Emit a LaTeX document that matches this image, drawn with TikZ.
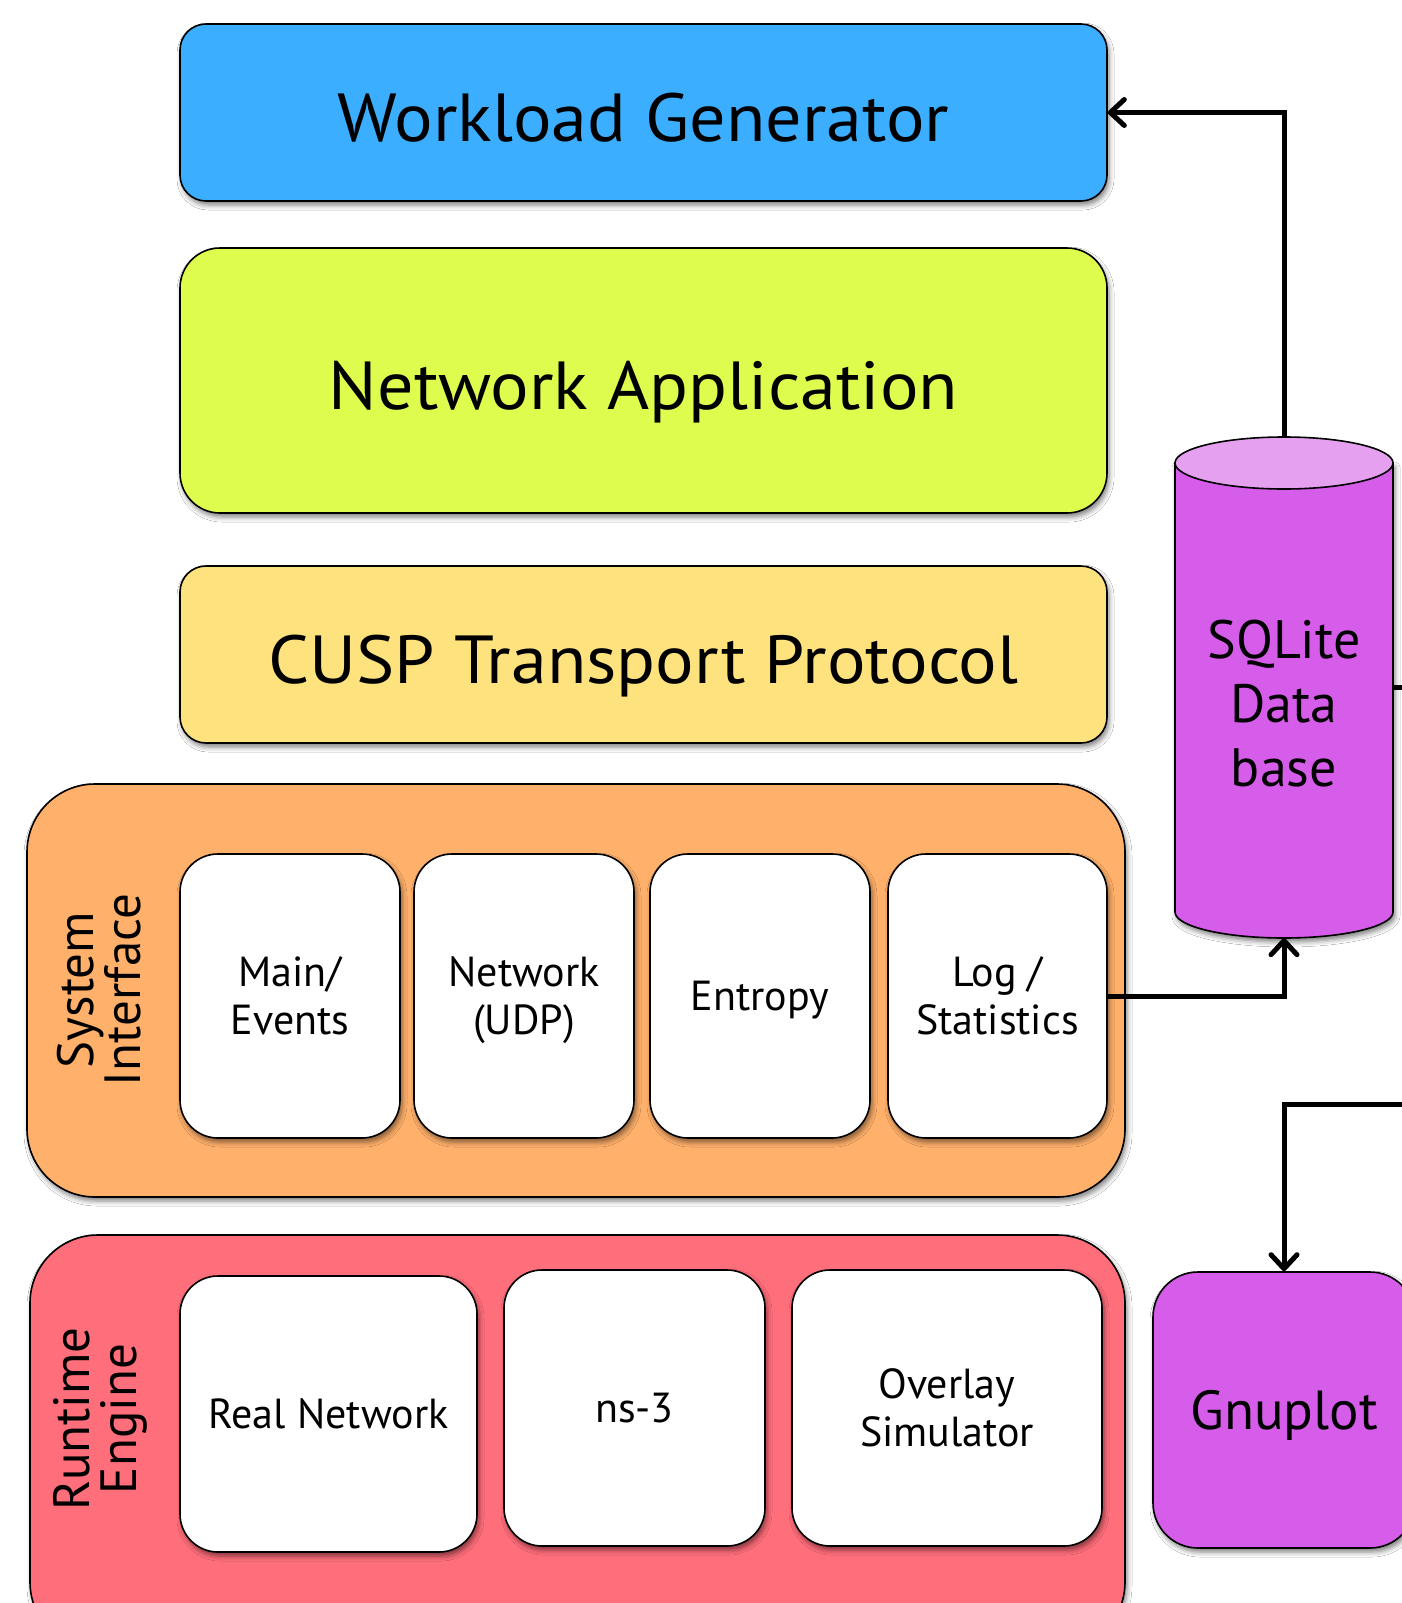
\documentclass[tikz,border=0pt]{standalone}
\usepackage{fontspec}
\setmainfont{PT Sans}
\newfontfamily\widesans{PT Sans}[FakeStretch=1.06]
\usetikzlibrary{arrows.meta,shadows.blur}

\definecolor{wgblue}{RGB}{59,174,255}
\definecolor{nalime}{RGB}{222,252,78}
\definecolor{cuspyellow}{RGB}{254,226,126}
\definecolor{siorange}{RGB}{255,176,107}
\definecolor{rered}{RGB}{255,110,123}
\definecolor{dbpurple}{RGB}{214,92,234}
\definecolor{dbcap}{RGB}{229,161,240}

\begin{document}
\begin{tikzpicture}[x=1pt,y=-1pt,
  softshadow/.style={blur shadow={shadow xshift=2pt,shadow yshift=-4pt,
      shadow blur radius=5pt,shadow opacity=50}},
  layerbox/.style={draw=black,line width=1.6pt,inner sep=0pt,
      align=center,softshadow},
  bigtext/.style={font=\widesans\fontsize{68}{76}\selectfont,
      text height=58pt,text depth=0pt},
  sidetext/.style={font=\fontsize{51}{47}\selectfont,align=center,
      rotate=90,inner sep=0pt},
  cell/.style={layerbox,fill=white,rounded corners=38pt,text depth=0pt,
      font=\fontsize{42}{48}\selectfont},
  conn/.style={line width=5pt,
      -{Straight Barb[length=14pt,width=26pt,round]}},
]
\useasboundingbox (0,0) rectangle (1402,1603);
\clip (0,0) rectangle (1402,1603);
\fill[white] (0,0) rectangle (1402,1603);

% upper layers
\node[layerbox,bigtext,fill=wgblue,rounded corners=26pt,
      minimum width=927pt,minimum height=177pt] (wg) at (643.5,112.5)
      {Workload Generator};
\node[layerbox,bigtext,fill=nalime,rounded corners=40pt,
      minimum width=927pt,minimum height=265pt] (na) at (643.5,380.5)
      {Network Application};
\node[layerbox,bigtext,fill=cuspyellow,rounded corners=26pt,
      minimum width=927pt,minimum height=177pt] (cusp) at (643.5,654.5)
      {CUSP Transport Protocol};

% system interface
\node[layerbox,fill=siorange,rounded corners=68pt,
      minimum width=1098pt,minimum height=413pt] (si) at (576,990.5) {};
\node[sidetext] (silabel) at (99,990) {System\\Interface};
\node[cell,minimum width=220pt,minimum height=284pt] (main) at (290,996)
      {Main/\\Events};
\node[cell,minimum width=220pt,minimum height=284pt] (udp) at (524,996)
      {Network\\(UDP)};
\node[cell,minimum width=220pt,minimum height=284pt] (ent) at (760,996)
      {Entropy};
\node[cell,minimum width=219pt,minimum height=284pt] (log) at (997.5,996)
      {Log /\\Statistics};

% runtime engine
\node[layerbox,fill=rered,rounded corners=68pt,
      minimum width=1095pt,minimum height=415pt] (re) at (577.5,1442.5) {};
\node[sidetext] (relabel) at (100,1419) {Runtime\\Engine};
\node[cell,minimum width=297pt,minimum height=276pt] (real) at (328.5,1414)
      {Real Network};
\node[cell,minimum width=261pt,minimum height=276pt] (ns3) at (634.5,1408)
      {ns-3};
\node[cell,minimum width=310pt,minimum height=276pt] (ovl) at (947,1408)
      {Overlay\\Simulator};

% database cylinder
\path[draw=black,line width=1.6pt,fill=dbpurple,softshadow]
  (1175,463) -- (1175,912)
  arc[start angle=180,end angle=360,x radius=109pt,y radius=26pt]
  -- (1393,463) -- cycle;
\filldraw[draw=black,line width=1.6pt,fill=dbcap]
  (1284,463) ellipse[x radius=109pt,y radius=26pt];
\node[inner sep=0pt,minimum width=218pt,minimum height=501pt] (db)
  at (1284,687.5) {};
\node[font=\fontsize{54}{64}\selectfont,align=center,inner sep=0pt]
  (dbtext) at (1284,704) {SQLite\\Data\\base};

% plotting tool
\node[layerbox,fill=dbpurple,rounded corners=45pt,text depth=0pt,
      font=\fontsize{55}{64}\selectfont,
      minimum width=262pt,minimum height=276pt] (gp) at (1284,1410)
      {Gnuplot};

% data flow
\coordinate (outside) at (1432,0);
\coordinate (gpfeed) at (1284,1104);
\draw[conn] (db.north) |- (wg.east);
\draw[conn] (log.east) -| (db.south);
\draw[conn] (db.east) -- (db.east -| outside) |- (gpfeed) -- (gp.north);
\end{tikzpicture}
\end{document}
